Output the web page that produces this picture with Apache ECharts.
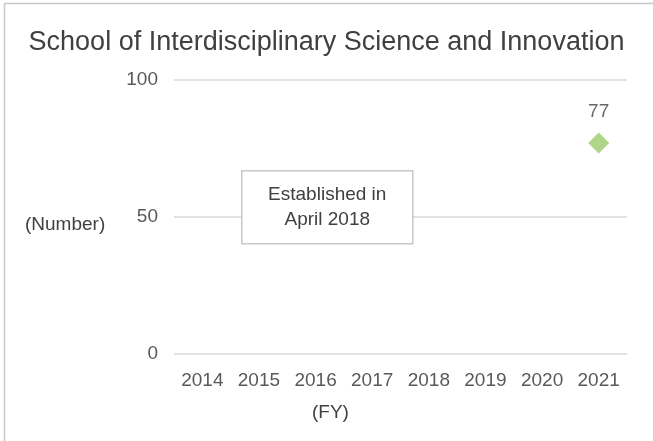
<!DOCTYPE html>
<html>
<head>
<meta charset="utf-8">
<script src="https://cdn.jsdelivr.net/npm/echarts@6/dist/echarts.min.js"></script>
<style>
  html, body { margin: 0; padding: 0; background: #fff; }
  #chart { width: 653px; height: 441px; }
</style>
</head>
<body>
<div id="chart"></div>
<script>
const years = ["2014", "2015", "2016", "2017", "2018", "2019", "2020", "2021"];
// school established in April 2018, first count in FY2021
const students = [null, null, null, null, null, null, null, 77];
const yTicks = [0, 50, 100];

const chart = echarts.init(document.getElementById("chart"));
const font = "Liberation Sans, Arial, sans-serif";

chart.setOption({
  animation: false,
  textStyle: { fontFamily: font },
  title: {
    text: "School of Interdisciplinary Science and Innovation",
    left: "center",
    top: 24,
    textStyle: { fontSize: 27, fontWeight: "normal", color: "#404040", fontFamily: font },
  },
  grid: { left: 174, right: 26, top: 80, bottom: 87 },
  xAxis: {
    type: "category",
    data: years,
    axisLine: { show: false },
    axisTick: { show: false },
    axisLabel: { color: "#595959", fontSize: 19, margin: 17 },
  },
  yAxis: {
    type: "value",
    min: yTicks[0],
    max: yTicks[yTicks.length - 1],
    interval: 50,
    axisLine: { show: false },
    axisTick: { show: false },
    axisLabel: { color: "#595959", fontSize: 19, margin: 16 },
    splitLine: { lineStyle: { color: "#d9d9d9", width: 1.6 } },
  },
  series: [
    {
      name: "Number",
      type: "scatter",
      data: students,
      symbol: "diamond",
      symbolSize: 21,
      itemStyle: { color: "#9bcb6b" },
      label: {
        show: true,
        position: "top",
        distance: 11,
        color: "#404040",
        fontSize: 19,
      },
    },
  ],
  graphic: [
    { type: "line", z: 100, shape: { x1: 4, y1: 3.5, x2: 653, y2: 3.5 }, style: { stroke: "#c8c8c8", lineWidth: 1.5 } },
    { type: "line", z: 100, shape: { x1: 4.5, y1: 3, x2: 4.5, y2: 441 }, style: { stroke: "#c8c8c8", lineWidth: 1.5 } },
    {
      type: "text",
      z: 100,
      left: 25,
      top: 215,
      style: { text: "(Number)", fill: "#404040", fontSize: 19, fontFamily: font },
    },
    {
      type: "text",
      z: 100,
      left: 312,
      top: 403,
      style: { text: "(FY)", fill: "#404040", fontSize: 19, fontFamily: font },
    },
    {
      type: "group",
      z: 100,
      left: 241,
      top: 170,
      children: [
        {
          type: "rect",
          z: 100,
          shape: { x: 0, y: 0, width: 171, height: 73 },
          style: { fill: "#fff", stroke: "#c8c8c8", lineWidth: 1.5 },
        },
        {
          type: "text",
          z: 101,
          x: 85.5,
          y: 37,
          style: {
            text: "Established in\nApril 2018",
            align: "center",
            verticalAlign: "middle",
            lineHeight: 25,
            fill: "#404040",
            fontSize: 19,
            fontFamily: font,
          },
        },
      ],
    },
  ],
});
</script>
</body>
</html>
